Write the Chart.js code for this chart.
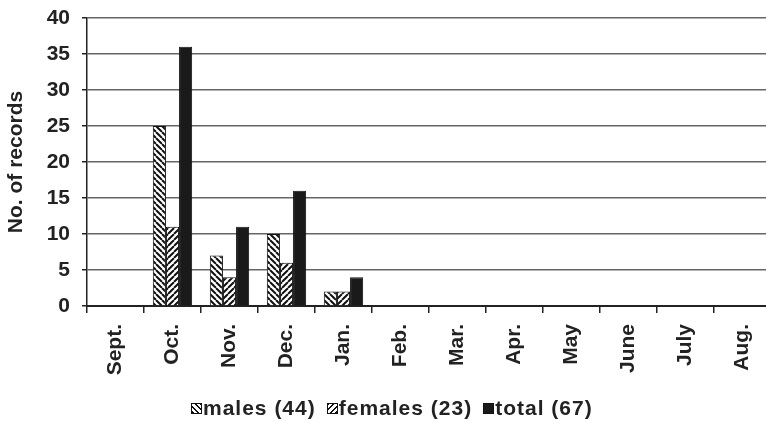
<!DOCTYPE html>
<html lang="en">
  <head>
    <meta charset="utf-8">
    <title>Records per month</title>
    <script src="https://cdn.jsdelivr.net/npm/chart.js@4.4.0/dist/chart.umd.min.js"></script>
    <style>
      body { margin: 0; overflow: hidden; background: #fff; }
      #wrap { position: relative; width: 771px; height: 423px; }
      #legend { position: absolute; top: 396px; left: 191px; display: flex; align-items: center;
        font: bold 21px "Liberation Sans", Arial, sans-serif; color: #222; white-space: nowrap; letter-spacing: 1px; }
      #legend span.box { display: inline-block; width: 9px; height: 9px; border: 1px solid #111; margin-right: 1px; }
      #legend span.item { margin-right: 11px; display: flex; align-items: center; }
    </style>
  </head>
  <body>
    <div id="wrap">
      <canvas id="chart" width="771" height="423"></canvas>
      <div id="legend"></div>
    </div>
    <script>
      const months = ['Sept.', 'Oct.', 'Nov.', 'Dec.', 'Jan.', 'Feb.', 'Mar.', 'Apr.', 'May', 'June', 'July', 'Aug.'];
      const males = [0, 25, 7, 10, 2, 0, 0, 0, 0, 0, 0, 0];
      const females = [0, 11, 4, 6, 2, 0, 0, 0, 0, 0, 0, 0];
      const total = [0, 36, 11, 16, 4, 0, 0, 0, 0, 0, 0, 0];
      const seriesNames = ['males (44)', 'females (23)', 'total (67)'];

      const fontFam = '"Liberation Sans", Arial, sans-serif';

      // hatch fill, dir '\\' or '/'
      function hatch(dir) {
        const s = 6;
        const c = document.createElement('canvas');
        c.width = s; c.height = s;
        const g = c.getContext('2d');
        g.fillStyle = '#fff';
        g.fillRect(0, 0, s, s);
        g.strokeStyle = '#111';
        g.lineWidth = 2;
        g.beginPath();
        for (let k = -1; k <= 1; k++) {
          if (dir === '/') { g.moveTo(k * s, s); g.lineTo(k * s + s, 0); }
          else { g.moveTo(k * s, 0); g.lineTo(k * s + s, s); }
        }
        g.stroke();
        return g.createPattern(c, 'repeat');
      }

      const ctx = document.getElementById('chart').getContext('2d');
      const fills = [hatch('\\'), hatch('/'), '#1a1a1a'];

      new Chart(ctx, {
        type: 'bar',
        data: {
          labels: months,
          datasets: [males, females, total].map((d, i) => ({
            label: seriesNames[i],
            data: d,
            backgroundColor: fills[i],
            borderColor: '#111',
            borderWidth: 1,
            categoryPercentage: 0.69,
            barPercentage: 1.0
          }))
        },
        options: {
          responsive: false,
          animation: false,
          layout: { padding: { top: 18, right: 0, left: 0, bottom: 0 } },
          plugins: { legend: { display: false }, tooltip: { enabled: false } },
          scales: {
            x: {
              afterFit: s => { s.height = 117; s.paddingLeft = 0; s.paddingRight = 0; },
              grid: { display: true, drawOnChartArea: false, offset: true, tickLength: 7, tickColor: '#222', lineWidth: 1.5 },
              border: { color: '#222', width: 2 },
              ticks: { maxRotation: 90, minRotation: 90, color: '#222', padding: 11,
                font: { family: fontFam, size: 21, weight: 'bold' } }
            },
            y: {
              min: 0, max: 40,
              afterFit: s => { s.width = 87; s.paddingTop = 0; s.paddingBottom = 0; },
              grid: { color: '#666', lineWidth: 1.5, tickLength: 5, tickColor: '#222' },
              border: { color: '#222', width: 1.5 },
              ticks: { stepSize: 5, color: '#222', padding: 12,
                font: { family: fontFam, size: 21, weight: 'bold' } },
              title: { display: true, text: 'No. of records', color: '#222', padding: { top: 4, bottom: 0 },
                font: { family: fontFam, size: 21, weight: 'bold' } }
            }
          }
        }
      });

      // legend below the chart
      const legendBg = [
        'repeating-linear-gradient(45deg, #111 0 1.5px, #fff 1.5px 4px)',
        'repeating-linear-gradient(-45deg, #111 0 1.5px, #fff 1.5px 4px)',
        '#1a1a1a'
      ];
      const legend = document.getElementById('legend');
      seriesNames.forEach((name, i) => {
        const item = document.createElement('span');
        item.className = 'item';
        const box = document.createElement('span');
        box.className = 'box';
        box.style.background = legendBg[i];
        item.appendChild(box);
        item.appendChild(document.createTextNode(name));
        legend.appendChild(item);
      });
    </script>
  </body>
</html>
